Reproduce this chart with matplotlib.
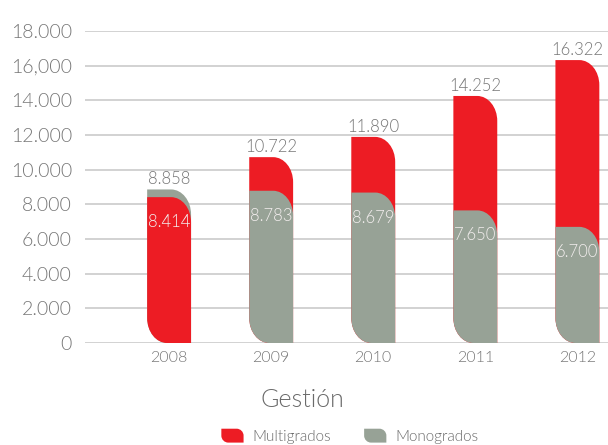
import matplotlib
matplotlib.use("Agg")
import matplotlib.pyplot as plt
from matplotlib.path import Path
from matplotlib.patches import PathPatch
from matplotlib.legend_handler import HandlerPatch
from matplotlib.patches import Patch
import numpy as np

years = ["2008", "2009", "2010", "2011", "2012"]
multigrados = [8414, 10722, 11890, 14252, 16322]
monogrados = [8858, 8783, 8679, 7650, 6700]
yticks = [0, 2000, 4000, 6000, 8000, 10000, 12000, 14000, 16000, 18000]
ytick_labels = ["0", "2.000", "4.000", "6.000", "8.000", "10.000", "12.000", "14.000", "16,000", "18.000"]

RED = "#ED1C24"
GRAY = "#97A296"
TXT = "#767676"
FW = 300

plt.rcParams['font.family'] = ['Lato', 'DejaVu Sans']

W, H = 608, 445
fig = plt.figure(figsize=(W / 100, H / 100), dpi=100)
ax_left, ax_right, ax_bot, ax_top = 85, 608, 343, 31
ax = fig.add_axes([ax_left / W, 1 - ax_bot / H, (ax_right - ax_left) / W, (ax_bot - ax_top) / H])
xlim = (-0.824, 4.30)
ylim = (0, 18000)
ax.set_xlim(*xlim)
ax.set_ylim(*ylim)

px_x = (xlim[1] - xlim[0]) / (ax_right - ax_left)
px_y = (ylim[1] - ylim[0]) / (ax_bot - ax_top)
rx = 20 * px_x
ry = 25 * px_y
K = 0.5523


def leaf(x0, y0, w, h, rx, ry):
    verts = [
        (x0, y0 + ry),
        (x0, y0 + h),
        (x0 + w - rx, y0 + h),
        (x0 + w - rx + K * rx, y0 + h), (x0 + w, y0 + h - ry + K * ry), (x0 + w, y0 + h - ry),
        (x0 + w, y0),
        (x0 + rx, y0),
        (x0 + rx - K * rx, y0), (x0, y0 + ry - K * ry), (x0, y0 + ry),
        (x0, y0 + ry),
    ]
    codes = [Path.MOVETO, Path.LINETO, Path.LINETO,
             Path.CURVE4, Path.CURVE4, Path.CURVE4,
             Path.LINETO, Path.LINETO,
             Path.CURVE4, Path.CURVE4, Path.CURVE4,
             Path.CLOSEPOLY]
    return Path(verts, codes)


x = np.arange(len(years))
bw = 0.43
bars_m = ax.bar(x, multigrados, width=bw, alpha=0)
bars_g = ax.bar(x, monogrados, width=bw, alpha=0)

for i in range(len(years)):
    rm, rg = bars_m[i], bars_g[i]
    items = [(rm, RED, multigrados[i]), (rg, GRAY, monogrados[i])]
    items.sort(key=lambda t: -t[2])
    for z, (r, col, v) in enumerate(items):
        p = leaf(r.get_x(), 0, r.get_width(), r.get_height(), rx, ry)
        ax.add_patch(PathPatch(p, facecolor=col, edgecolor='none', zorder=3 + z))
    big, small = items[0][2], items[1][2]
    ax.annotate(f"{big:,}".replace(",", "."), (x[i], big), xytext=(0, 1.5),
                textcoords='offset points', ha='center', va='bottom',
                fontsize=12, color=TXT, zorder=10, fontweight=FW)
    ax.annotate(f"{small:,}".replace(",", "."), (x[i], small), xytext=(0, -18),
                textcoords='offset points', ha='center', va='center',
                fontsize=12, color='#f3eeee', zorder=10, fontweight=FW)

ax.set_yticks(yticks)
ax.set_yticklabels(ytick_labels, fontsize=14, color=TXT, fontweight=FW)
ax.set_xticks(x)
ax.set_xticklabels(years, fontsize=11.5, color=TXT, fontweight=FW)
ax.tick_params(axis='both', length=0)
ax.tick_params(axis='y', pad=9.5)
ax.tick_params(axis='x', pad=6)
ax.grid(axis='y', color='#cfcfcf', linewidth=1.3, zorder=0)
ax.set_axisbelow(True)
for s in ax.spines.values():
    s.set_visible(False)

fig.text(302 / W, 1 - 400 / H, "Gestión", ha='center', va='center', fontsize=18,
         color='#6a6a6a', fontweight=FW)


class LeafHandler(HandlerPatch):
    def create_artists(self, legend, orig_handle, xdescent, ydescent, width, height, fontsize, trans):
        w, h = 16, 10
        x0 = xdescent + (width - w) / 2
        y0 = ydescent + (height - h) / 2
        p = leaf(x0, y0, w, h, 5, 5)
        patch = PathPatch(p, facecolor=orig_handle.get_facecolor(), edgecolor='none', transform=trans)
        return [patch]


handles = [Patch(facecolor=RED, label="Multigrados"), Patch(facecolor=GRAY, label="Monogrados")]
fig.legend(handles=handles, loc='center', bbox_to_anchor=(350 / W, 1 - 437 / H), ncol=2,
           frameon=False, handler_map={Patch: LeafHandler()},
           handlelength=1.4, handletextpad=0.6, columnspacing=2.2, labelcolor='#6a6a6a',
           prop={'size': 11, 'weight': FW})

fig.savefig("out.png", dpi=100)
